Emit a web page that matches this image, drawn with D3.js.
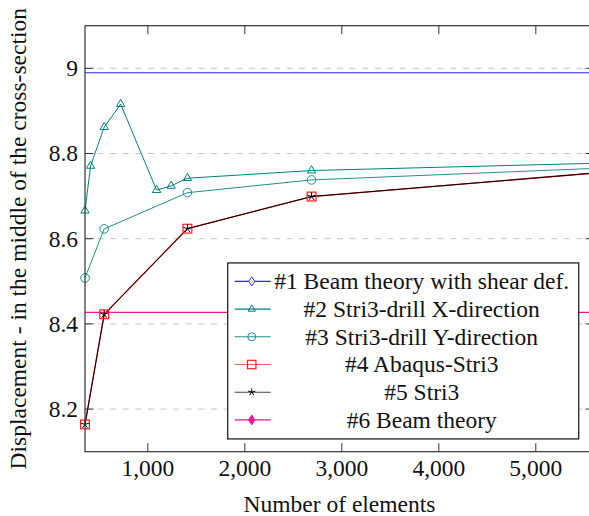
<!DOCTYPE html>
<html>
<head>
<meta charset="utf-8">
<script src="https://cdn.jsdelivr.net/npm/d3@7"></script>
<style>
  html, body { margin: 0; padding: 0; background: #fff; }
  svg { display: block; }
</style>
</head>
<body>
<svg id="chart" width="589" height="516"></svg>
<script>
// Mesh sizes (number of elements) for each refinement study
const elementsX = [352, 410, 550, 720, 1090, 1240, 1408, 2688, 5600];
const elementsY = [352, 550, 1408, 2688, 5600];

// Mid-span displacement for each model
const stri3DrillX = [8.666, 8.771, 8.862, 8.916, 8.714, 8.724, 8.742, 8.760, 8.777];
const stri3DrillY = [8.508, 8.623, 8.708, 8.738, 8.765];
const abaqusStri3 = [8.164, 8.4225, 8.6235, 8.699, 8.754];
const stri3 = [8.164, 8.4225, 8.6235, 8.699, 8.754];

// Analytical references (constant over the mesh range)
const beamShear = 8.9897;
const beamTheory = 8.427;

// Axis settings
const xDomain = [352, 5600];
const yDomain = [8.1, 9.1];
const xTicks = [1000, 2000, 3000, 4000, 5000];
const yTicks = [8.2, 8.4, 8.6, 8.8, 9];

const legendLabels = [
  "#1 Beam theory with shear def.",
  "#2 Stri3-drill X-direction",
  "#3 Stri3-drill Y-direction",
  "#4 Abaqus-Stri3",
  "#5 Stri3",
  "#6 Beam theory"
];

const FONT = '"Liberation Serif"';
const svg = d3.select("#chart");
const FS = 23.5;

// Text helper: every label gets the serif face set directly
function label(sel) {
  return sel.style("font-family", FONT).attr("font-size", FS).attr("fill", "#111");
}

const plot = { left: 85, right: 594, top: 25.7, bottom: 451.7 };
const x = d3.scaleLinear().domain(xDomain).range([plot.left, plot.right]);
const y = d3.scaleLinear().domain(yDomain).range([plot.bottom, plot.top]);

const defs = svg.append("defs");
defs.append("clipPath").attr("id", "plotClip")
  .append("rect")
  .attr("x", plot.left).attr("y", plot.top)
  .attr("width", plot.right - plot.left).attr("height", plot.bottom - plot.top);

// Horizontal dashed grid
svg.append("g").selectAll("line").data(yTicks).join("line")
  .attr("x1", plot.left).attr("x2", plot.right)
  .attr("y1", d => y(d)).attr("y2", d => y(d))
  .attr("stroke", "#c4c4c4").attr("stroke-width", 1)
  .attr("stroke-dasharray", "6,6.6");

// Marker shapes
const markers = {
  diamond: (g, s, c, fill) => g.append("path")
    .attr("d", `M0,${-s * 1.5}L${s},0L0,${s * 1.5}L${-s},0Z`)
    .attr("fill", fill ? c : "#fff").attr("stroke", c).attr("stroke-width", 1),
  triangle: (g, s, c) => g.append("path")
    .attr("d", `M0,${-s}L${s * 0.866},${s * 0.5}L${-s * 0.866},${s * 0.5}Z`)
    .attr("fill", "none").attr("stroke", c).attr("stroke-width", 1),
  circle: (g, s, c) => g.append("circle").attr("r", s)
    .attr("fill", "none").attr("stroke", c).attr("stroke-width", 1),
  square: (g, s, c) => g.append("rect")
    .attr("x", -s).attr("y", -s).attr("width", 2 * s).attr("height", 2 * s)
    .attr("fill", "none").attr("stroke", c).attr("stroke-width", 1.2),
  star: (g, s, c) => {
    let d = "";
    for (let k = 0; k < 5; k++) {
      const a = -Math.PI / 2 + k * 2 * Math.PI / 5;
      d += `M0,0L${(s * Math.cos(a)).toFixed(2)},${(s * Math.sin(a)).toFixed(2)}`;
    }
    g.append("path").attr("d", d).attr("stroke", c).attr("stroke-width", 1).attr("fill", "none");
  }
};

const colors = {
  blue: "#2a2aff",
  teal: "#008080",
  teal2: "#1f8f8f",
  red: "#ff1a1a",
  black: "#000",
  pink: "#f21896"
};

const plotG = svg.append("g").attr("clip-path", "url(#plotClip)");
const line = d3.line().x(d => x(d[0])).y(d => y(d[1]));

// #1 beam theory with shear deformation
plotG.append("path").datum([[xDomain[0], beamShear], [xDomain[1], beamShear]])
  .attr("d", line).attr("fill", "none").attr("stroke", colors.blue).attr("stroke-width", 1.1);

function series(xs, ys, color, width) {
  const pts = xs.map((v, i) => [v, ys[i]]);
  plotG.append("path").datum(pts).attr("d", line)
    .attr("fill", "none").attr("stroke", color).attr("stroke-width", width || 1);
  return pts;
}
const ptsX = series(elementsX, stri3DrillX, colors.teal);
const ptsY = series(elementsY, stri3DrillY, colors.teal2);
const ptsA = series(elementsY, abaqusStri3, colors.red, 1.3);
const ptsS = series(elementsY, stri3, colors.black);

// #6 Euler-Bernoulli beam theory
plotG.append("path").datum([[xDomain[0], beamTheory], [xDomain[1], beamTheory]])
  .attr("d", line).attr("fill", "none").attr("stroke", colors.pink).attr("stroke-width", 1.1);

// Markers are drawn on top of the lines
const markG = svg.append("g");
function drawMarks(pts, shape, size, color) {
  pts.forEach(p => {
    const g = markG.append("g").attr("transform", `translate(${x(p[0])},${y(p[1])})`);
    markers[shape](g, size, color);
  });
}
drawMarks(ptsX, "triangle", 4.8, colors.teal);
drawMarks(ptsY, "circle", 4.3, colors.teal2);
drawMarks(ptsA, "square", 4.4, colors.red);
drawMarks(ptsS, "star", 4.2, colors.black);

// Axis frame
const axisColor = "#333";
svg.append("rect")
  .attr("x", plot.left).attr("y", plot.top)
  .attr("width", plot.right - plot.left).attr("height", plot.bottom - plot.top)
  .attr("fill", "none").attr("stroke", axisColor).attr("stroke-width", 1.2);

// Inward tick marks on all four sides
const TL = 8.5;
const tickG = svg.append("g").attr("stroke", axisColor).attr("stroke-width", 1);
xTicks.forEach(t => {
  tickG.append("line").attr("x1", x(t)).attr("x2", x(t)).attr("y1", plot.bottom).attr("y2", plot.bottom - TL);
  tickG.append("line").attr("x1", x(t)).attr("x2", x(t)).attr("y1", plot.top).attr("y2", plot.top + TL);
});
yTicks.forEach(t => {
  tickG.append("line").attr("x1", plot.left).attr("x2", plot.left + TL).attr("y1", y(t)).attr("y2", y(t));
  tickG.append("line").attr("x1", plot.right).attr("x2", plot.right - TL).attr("y1", y(t)).attr("y2", y(t));
});

// Tick labels
const fmtX = d3.format(",");
label(svg.append("g").selectAll("text").data(xTicks).join("text"))
  .attr("x", d => x(d)).attr("y", 476)
  .attr("text-anchor", "middle")
  .text(d => fmtX(d));
label(svg.append("g").selectAll("text").data(yTicks).join("text"))
  .attr("x", 78).attr("y", d => y(d)).attr("dy", "0.34em")
  .attr("text-anchor", "end")
  .text(d => d3.format("")(d));

// Axis titles
label(svg.append("text"))
  .attr("x", (plot.left + plot.right) / 2).attr("y", 512)
  .attr("text-anchor", "middle")
  .text("Number of elements");
label(svg.append("text"))
  .attr("transform", `translate(26,${(plot.top + plot.bottom) / 2}) rotate(-90)`)
  .attr("text-anchor", "middle")
  .text("Displacement - in the middle of the cross-section");

// Legend (south-east corner of the axis)
const lgW = 351, lgH = 176;
const lgRight = plot.right - 0.03 * (plot.right - plot.left);
const lgBottom = plot.bottom - 0.03 * (plot.bottom - plot.top);
const lg = svg.append("g").attr("transform", `translate(${lgRight - lgW},${lgBottom - lgH})`);
lg.append("rect").attr("width", lgW).attr("height", lgH)
  .attr("fill", "#fff").attr("stroke", "#111").attr("stroke-width", 1.2);

const legendStyle = [
  { color: colors.blue, shape: "diamond", size: 3, fill: false, lineColor: colors.blue },
  { color: colors.teal, shape: "triangle", size: 4.2, lineColor: colors.teal },
  { color: colors.teal2, shape: "circle", size: 4, lineColor: colors.teal2 },
  { color: colors.red, shape: "square", size: 4.2, lineColor: "#ff5a5a" },
  { color: colors.black, shape: "star", size: 3.8, lineColor: "#444" },
  { color: colors.pink, shape: "diamond", size: 3.2, fill: true, lineColor: colors.pink }
];
const rowY0 = 18.5, rowStep = 27.7;
legendLabels.forEach((lab, i) => {
  const st = legendStyle[i];
  const cy = rowY0 + i * rowStep;
  lg.append("line").attr("x1", 7).attr("x2", 43).attr("y1", cy).attr("y2", cy)
    .attr("stroke", st.lineColor).attr("stroke-width", 1.1);
  const g = lg.append("g").attr("transform", `translate(24,${cy})`);
  markers[st.shape](g, st.size, st.color, st.fill);
  label(lg.append("text")).attr("x", 194).attr("y", cy).attr("dy", "0.33em")
    .attr("text-anchor", "middle")
    .text(lab);
});
</script>
</body>
</html>
